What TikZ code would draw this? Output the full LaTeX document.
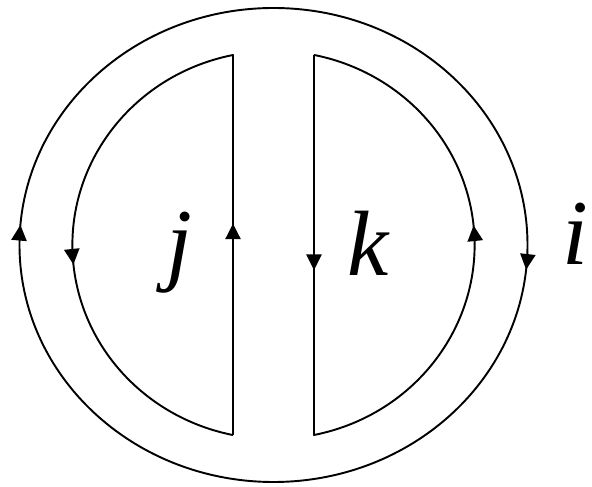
\documentclass[tikz,border=0pt]{standalone}
\usepackage{fontspec}
\setmainfont{Liberation Serif}
\usetikzlibrary{arrows.meta, decorations.markings}

\tikzset{
  strand/.style={line width=0.48mm, line join=round},
  flowtip/.tip={Triangle[width=3.8mm, length=3.9mm]},
  twoflows/.style 2 args={strand, postaction={decorate},
    decoration={markings,
      mark=at position #1 with {\arrow{flowtip}},
      mark=at position #2 with {\arrow{flowtip}}}},
  index/.style={anchor=base, inner sep=0pt, font=\fontsize{66}{66}\selectfont\itshape}
}

\begin{document}
\begin{tikzpicture}[x=0.25mm, y=0.25mm]
    \path[use as bounding box] (0,0) rectangle (592,487);
    \coordinate (mid) at (273.5,242);
    % outer strand i, clockwise from the top
    \draw[twoflows={0.266}{0.763}] (mid) ++(90:254 and 237)
      arc[start angle=90, end angle=-270, x radius=254, y radius=237];
    % inner strand j, up the rung and back round the left
    \draw[twoflows={0.23}{0.728}] (233,52) -- (233,432)
      arc[start angle=101.6, end angle=258.4, x radius=201, y radius=194];
    % inner strand k, down the rung and back round the right
    \draw[twoflows={0.234}{0.728}] (314,432) -- (314,52)
      arc[start angle=-78.4, end angle=78.4, x radius=201, y radius=194];
    % labels
    \node[index] (lj) at (179,213) {j};
    \node[index] (lk) at (368,211) {k};
    \node[index] (li) at (575,222) {i};
\end{tikzpicture}
\end{document}
